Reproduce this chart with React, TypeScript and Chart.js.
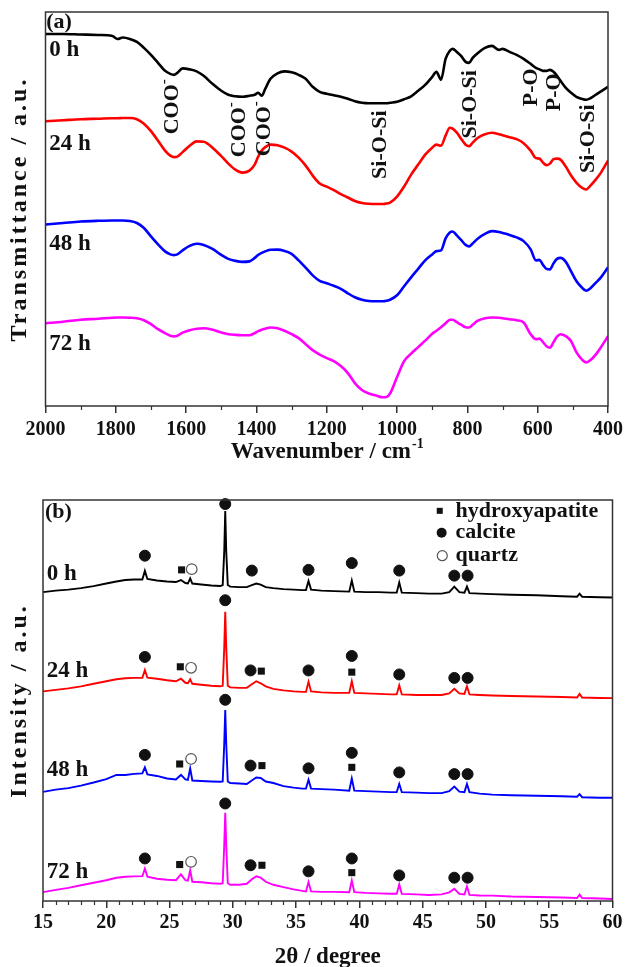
import React, { useEffect, useRef } from 'react';
import { Chart, registerables } from 'chart.js';

Chart.register(...registerables);

const FONT = '"Liberation Serif", "Times New Roman", serif';

// ---------------- Panel (a): FTIR ----------------
const wavenumbers = [2000, 1950, 1900, 1850, 1810, 1795, 1780, 1760, 1740, 1720, 1700, 1680, 1660, 1645, 1635, 1625, 1610, 1590, 1570, 1550, 1525, 1500, 1480, 1460, 1440, 1420, 1405, 1395, 1385, 1375, 1360, 1340, 1320, 1300, 1280, 1260, 1240, 1220, 1200, 1180, 1160, 1140, 1120, 1100, 1080, 1060, 1040, 1030, 1020, 1000, 980, 960, 940, 920, 900, 888, 875, 862, 850, 842, 830, 818, 805, 795, 785, 770, 750, 730, 710, 700, 680, 660, 640, 620, 605, 595, 585, 575, 565, 555, 545, 535, 520, 505, 490, 475, 462, 450, 435, 420, 400];

const ftir0h = [373, 373, 372.5, 372, 371, 368, 369.5, 368, 365, 359, 352, 344, 336, 333, 332, 334, 338.5, 337.5, 335.5, 331, 323, 316, 312, 310.5, 310, 311, 312, 314, 311, 318, 328, 333.5, 335.5, 334.5, 332, 328, 320, 315, 313, 311.5, 310, 308, 305.5, 304, 303.5, 303.5, 303.5, 303.5, 304, 305, 307.5, 310.5, 316, 322, 330, 335, 327, 348, 356, 358, 355, 351, 345, 344, 349, 354, 359, 361, 357, 358, 355, 352, 348, 343, 339, 337.5, 336, 336, 337, 335, 331, 326, 319, 314, 310, 308, 307, 308.5, 312, 315.5, 320];

const ftir24h = [285.5, 286.5, 287.5, 288, 288.5, 288.5, 288.7, 288.7, 287.5, 283, 275.5, 266, 256, 251, 249.5, 250, 254.5, 261, 265.3, 265, 259, 250.5, 243, 237, 234, 236, 242, 250, 256, 259.5, 262, 261.5, 259, 255, 249, 241, 231, 223, 220, 216.5, 212.5, 209, 205.5, 203.5, 202.7, 202.5, 202.5, 203, 204, 210, 220, 232, 242, 252, 259, 262, 261, 271, 279, 278, 274, 268, 262, 260.5, 264, 269, 272.5, 274, 272.5, 271.5, 269.5, 267.5, 263.5, 256, 248.5, 248, 244, 241.5, 243, 247.5, 248, 247, 240, 231, 224, 219, 217, 221, 227, 234, 246];

const ftir48h = [182, 183.5, 185, 185.7, 186, 186, 186, 185.5, 183.5, 178.5, 170, 162, 155, 152, 151.3, 152, 156, 160.5, 162.7, 161.5, 157.5, 151.5, 147.5, 145.5, 144.5, 145, 148.5, 151.5, 153.5, 155, 156.7, 156.8, 155.5, 152.5, 146, 138.7, 131, 125.5, 123, 120.5, 117.5, 113, 109, 106.5, 105.3, 105, 105, 105.5, 106.5, 111, 120, 129, 137.5, 146, 152, 155.3, 156, 168, 174, 175, 171, 166.5, 161.5, 160, 163, 168, 172.5, 175.3, 174.5, 173.5, 171.5, 169, 165.3, 157, 146, 146.5, 141.5, 137.5, 137, 143, 147.5, 148.5, 144.5, 135, 125.3, 119, 115.5, 118, 123.5, 129, 139];

const ftir72h = [83, 84.5, 86.5, 87.5, 88.5, 88.7, 88.7, 88.5, 88, 86, 82, 77, 73, 70.5, 69.8, 70.5, 73.5, 76, 77.5, 78, 76.5, 73.7, 72, 71.3, 71, 71, 73, 75, 76.5, 77.5, 78.7, 78, 75.5, 72, 68, 62, 56, 51.5, 48, 45, 40, 33, 23, 16, 12.5, 10.5, 8.7, 9, 12.5, 29, 45, 52.5, 59, 65.5, 72.5, 75.5, 79, 83, 86.5, 86.5, 84, 81.5, 79, 78.7, 81.5, 85.5, 88, 88.7, 88.5, 88, 87, 86, 83.7, 72, 67, 67.5, 64, 60, 58.5, 64, 69.5, 72, 70, 65, 54, 47, 43.7, 46, 51.5, 59, 70];

const ftirMajorTicks = [2000, 1800, 1600, 1400, 1200, 1000, 800, 600, 400];
const ftirMinorTicks = [1900, 1700, 1500, 1300, 1100, 900, 700, 500];

// ---------------- Panel (b): XRD ----------------
const twoTheta = [15, 16, 17, 18, 19, 20, 20.8, 21.5, 22.2, 22.85, 23.05, 23.25, 24, 24.8, 25.5, 25.9, 26.25, 26.45, 26.63, 26.8, 27.5, 28.3, 29.0, 29.2, 29.32, 29.4, 29.48, 29.6, 29.8, 30.5, 31.1, 31.5, 31.85, 32.2, 32.6, 33.2, 34, 34.8, 35.5, 35.78, 35.98, 36.18, 37, 38, 39.2, 39.4, 39.6, 40.5, 41.5, 42.5, 42.95, 43.15, 43.35, 44.5, 45.5, 46.5, 47.1, 47.5, 47.9, 48.3, 48.5, 48.7, 49.5, 50.5, 52, 54, 56, 57.2, 57.4, 57.6, 59, 60];

const xrd0h = [305, 306.5, 307.5, 309, 311, 313.5, 315.5, 317, 317.5, 317.5, 326, 318, 316.5, 315.5, 315, 317, 314, 313.5, 318.5, 313.5, 312.5, 311.5, 311, 312, 345, 385, 345, 312, 310.5, 310, 310, 312, 313.5, 312.5, 310, 309, 308, 307.5, 307, 307, 316, 307.5, 306.5, 306, 305.5, 316.5, 305.5, 305, 305, 304.5, 304.5, 314.5, 304.5, 304, 303.5, 303.5, 305, 310.5, 305, 304.5, 310.5, 304, 303.5, 303, 302.5, 302, 301, 300.5, 303.5, 300.5, 300, 299.7];

const xrd24h = [207, 208.5, 210, 212, 214.5, 217, 219, 220, 220.3, 220.5, 228, 220.5, 219.5, 218, 217, 219.5, 215.5, 215, 219, 214.5, 213.5, 212.5, 212, 212.5, 250, 285.5, 250, 212.5, 211, 210.5, 210.5, 214, 217, 215, 212, 209.5, 208, 207, 206.5, 206.5, 216.5, 207, 206, 205.5, 205.5, 217, 205.5, 205, 204.5, 204, 204, 213, 204, 203.5, 203.5, 203.5, 205, 209.5, 205, 204.5, 212, 204, 203.5, 203, 202.5, 202, 201.5, 201, 204.5, 201, 200.5, 200.3];

const xrd48h = [107.7, 110, 111.5, 114, 117, 120.3, 124.5, 124.5, 125.5, 126, 132, 125, 123.5, 121, 120, 124.5, 120, 119.5, 131, 119, 118.5, 118, 117.7, 118, 155, 188.7, 155, 118, 116.5, 116, 115.5, 119, 122, 121.5, 118, 116.5, 113.5, 112, 111, 111, 119.7, 111, 110.5, 110, 109, 121, 109, 108.5, 108, 107.5, 107.5, 115.5, 107.5, 107, 106.5, 106.5, 108.5, 113, 108, 107.5, 115.5, 107.5, 106, 105, 104.5, 104, 103.5, 103, 105.5, 102.5, 102, 102];

const xrd72h = [8.7, 11, 13, 15.5, 18, 20.5, 23, 24, 24.3, 24.5, 32, 24, 22, 21, 20.5, 26.3, 20.5, 20, 30.3, 19, 18.5, 17.5, 17, 17.5, 55, 87, 55, 17.5, 16, 16, 17, 21.5, 24.3, 23, 19, 16, 13.7, 11.5, 10, 9.5, 18.7, 9.5, 9, 9, 8.7, 20.3, 8.7, 8, 7.5, 7.2, 7.2, 16.3, 7, 6.5, 6, 6.5, 8.5, 12, 7, 6.5, 14.3, 6, 5.5, 5.3, 4.5, 4, 3.5, 3, 6.3, 3, 2.5, 2];

const xrdMajorTicks = [15, 20, 25, 30, 35, 40, 45, 50, 55, 60];
const xrdMinorTicks = [16, 17, 18, 19, 21, 22, 23, 24, 26, 27, 28, 29, 31, 32, 33, 34, 36, 37, 38, 39, 41, 42, 43, 44, 46, 47, 48, 49, 51, 52, 53, 54, 56, 57, 58, 59];

// phase markers [2θ, height]
const calciteMarks = [
  [23.05, 341], [29.4, 392], [31.5, 326.3], [35.98, 327], [39.4, 333.7], [43.15, 326.3], [47.5, 321.3], [48.55, 321.3],
  [23.05, 241], [29.4, 297], [31.4, 227.7], [35.98, 227.7], [39.4, 242], [43.15, 223.7], [47.5, 220.3], [48.55, 220.3],
  [23.05, 144.3], [29.4, 198.7], [31.4, 133.7], [35.98, 131], [39.4, 146.3], [43.15, 127], [47.5, 125.3], [48.55, 125.3],
  [23.05, 42], [29.4, 96.3], [31.4, 35.3], [35.98, 29.3], [39.4, 42], [43.15, 25.3], [47.5, 23], [48.55, 23],
];
const hydroxyapatiteMarks = [
  [25.95, 327],
  [25.85, 231.3], [32.25, 227], [39.4, 226],
  [25.8, 135.3], [32.3, 133.7], [39.4, 132],
  [25.8, 36], [32.3, 35.3], [39.4, 28],
];
const quartzMarks = [
  [26.75, 327.7],
  [26.7, 230.3],
  [26.7, 140.3],
  [26.7, 38.7],
];

const seriesNames = ['0 h', '24 h', '48 h', '72 h'];
const seriesColors = ['#000000', '#ff0000', '#0000ff', '#ff00ff'];

// text annotations (data coordinates)
const ftirLabelPos = [357, 263, 162, 62];
const xrdLabelPos = [323, 227, 129, 29];
const ftirBands = [
  { t: 'COO', sup: '-', x: 1640, y: 300 },
  { t: 'COO', sup: '-', x: 1448, y: 277 },
  { t: 'COO', sup: '-', x: 1377, y: 278 },
  { t: 'Si-O-Si', x: 1049, y: 262 },
  { t: 'Si-O-Si', x: 792, y: 302.5 },
  { t: 'P-O', x: 617, y: 319.5 },
  { t: 'P-O', x: 552, y: 314.5 },
  { t: 'Si-O-Si', x: 456, y: 268 },
];

type Decor = {
  panel: string;
  panelX: number;
  panelY: number;
  labelX: number;
  labelYs: number[];
  minor: number[];
  xTitle: string;
  xTitleSup?: string;
  xTitleOffset: number;
  yTitle: string;
  bands?: { t: string; sup?: string; x: number; y: number }[];
  legend?: boolean;
};

function makeDecor(d: Decor) {
  return {
    id: 'decor',
    afterDraw(chart: any) {
      const { ctx, chartArea: a, scales } = chart;
      const xs = scales.x;
      const ys = scales.y;
      ctx.save();
      // frame
      ctx.strokeStyle = '#333';
      ctx.lineWidth = 1.5;
      ctx.strokeRect(a.left, a.top, a.right - a.left, a.bottom - a.top);
      // minor ticks
      ctx.beginPath();
      d.minor.forEach((v) => {
        const px = Math.round(xs.getPixelForValue(v)) + 0.5;
        ctx.moveTo(px, a.bottom);
        ctx.lineTo(px, a.bottom + 4);
      });
      ctx.lineWidth = 1.2;
      ctx.stroke();

      ctx.fillStyle = '#111';
      ctx.textBaseline = 'middle';
      // panel label
      ctx.font = `bold 22px ${FONT}`;
      ctx.textAlign = 'left';
      ctx.fillText(d.panel, xs.getPixelForValue(d.panelX), ys.getPixelForValue(d.panelY));
      // series labels
      ctx.font = `bold 23px ${FONT}`;
      d.labelYs.forEach((y, i) => {
        ctx.fillText(seriesNames[i], xs.getPixelForValue(d.labelX), ys.getPixelForValue(y));
      });
      // band labels (rotated)
      (d.bands || []).forEach((b) => {
        ctx.save();
        ctx.translate(xs.getPixelForValue(b.x), ys.getPixelForValue(b.y));
        ctx.rotate(-Math.PI / 2);
        const main = `bold 22px ${FONT}`;
        const small = `bold 15px ${FONT}`;
        ctx.font = main;
        const w1 = ctx.measureText(b.t).width;
        let w2 = 0;
        if (b.sup) {
          ctx.font = small;
          w2 = ctx.measureText(b.sup).width;
        }
        const start = -(w1 + w2) / 2;
        ctx.textAlign = 'left';
        ctx.font = main;
        ctx.fillText(b.t, start, 0);
        if (b.sup) {
          ctx.font = small;
          ctx.fillText(b.sup, start + w1, -8);
        }
        ctx.restore();
      });
      // legend
      if (d.legend) {
        const items = [
          { t: 'hydroxyapatite', x: 46.35, y: 385.3, kind: 'sq' },
          { t: 'calcite', x: 46.5, y: 363.7, kind: 'dot' },
          { t: 'quartz', x: 46.55, y: 341, kind: 'ring' },
        ];
        ctx.font = `bold 22px ${FONT}`;
        ctx.textAlign = 'left';
        items.forEach((it) => {
          const px = xs.getPixelForValue(it.x);
          const py = ys.getPixelForValue(it.y);
          ctx.beginPath();
          if (it.kind === 'sq') {
            ctx.fillStyle = '#111';
            ctx.fillRect(px - 3, py - 3, 6, 6);
          } else if (it.kind === 'dot') {
            ctx.fillStyle = '#111';
            ctx.arc(px, py, 5, 0, Math.PI * 2);
            ctx.fill();
          } else {
            ctx.fillStyle = '#fff';
            ctx.strokeStyle = '#555';
            ctx.lineWidth = 1.2;
            ctx.arc(px, py, 5, 0, Math.PI * 2);
            ctx.fill();
            ctx.stroke();
          }
          ctx.fillStyle = '#111';
          ctx.fillText(it.t, xs.getPixelForValue(47.6), py);
        });
      }
      // x title
      const cx = (a.left + a.right) / 2;
      const ty = a.bottom + d.xTitleOffset;
      ctx.font = `bold 23px ${FONT}`;
      const wMain = ctx.measureText(d.xTitle).width;
      let wSup = 0;
      if (d.xTitleSup) {
        ctx.font = `bold 14px ${FONT}`;
        wSup = ctx.measureText(d.xTitleSup).width;
      }
      const sx = cx - (wMain + wSup) / 2;
      ctx.textAlign = 'left';
      ctx.font = `bold 23px ${FONT}`;
      ctx.fillText(d.xTitle, sx, ty);
      if (d.xTitleSup) {
        ctx.font = `bold 14px ${FONT}`;
        ctx.fillText(d.xTitleSup, sx + wMain + 1, ty - 8);
      }
      // y title
      ctx.save();
      ctx.translate(20, (a.top + a.bottom) / 2);
      ctx.rotate(-Math.PI / 2);
      ctx.font = `bold 24px ${FONT}`;
      (ctx as any).letterSpacing = '3px';
      ctx.textAlign = 'center';
      ctx.fillText(d.yTitle, 0, 0);
      ctx.restore();
      ctx.restore();
    },
  };
}

function xAxis(min: number, max: number, reverse: boolean, ticks: number[], height: number, pad: number) {
  return {
    type: 'linear',
    min,
    max,
    reverse,
    afterBuildTicks: (s: any) => {
      s.ticks = ticks.map((v) => ({ value: v }));
    },
    afterFit: (s: any) => {
      s.height = height;
    },
    ticks: {
      autoSkip: false,
      maxRotation: 0,
      minRotation: 0,
      padding: pad,
      color: '#111',
      font: { family: FONT, size: 20, weight: 'bold' },
      callback: (v: any) => String(v),
    },
    grid: {
      drawOnChartArea: false,
      drawTicks: true,
      tickLength: 7,
      color: '#333',
      lineWidth: 1.5,
    },
    border: { display: false },
  };
}

export default function App() {
  const refA = useRef<HTMLCanvasElement>(null);
  const refB = useRef<HTMLCanvasElement>(null);

  useEffect(() => {
    const ftirSeries = [ftir0h, ftir24h, ftir48h, ftir72h];
    const xrdSeries = [xrd0h, xrd24h, xrd48h, xrd72h];

    const chartA = new Chart(refA.current as HTMLCanvasElement, {
      type: 'line',
      data: {
        datasets: ftirSeries.map((vals, i) => ({
          label: seriesNames[i],
          data: wavenumbers.map((w, j) => ({ x: w, y: vals[j] })),
          borderColor: seriesColors[i],
          borderWidth: 2.6,
          pointRadius: 0,
          fill: false,
          cubicInterpolationMode: 'monotone',
        })),
      } as any,
      options: {
        responsive: false,
        animation: false,
        devicePixelRatio: 1,
        layout: { padding: { left: 45.5, top: 12, right: 17, bottom: 0 } },
        plugins: { legend: { display: false }, tooltip: { enabled: false } },
        scales: {
          x: xAxis(400, 2000, true, ftirMajorTicks, 84, 5),
          y: { type: 'linear', min: 0, max: 395, display: false },
        },
      } as any,
      plugins: [
        makeDecor({
          panel: '(a)',
          panelX: 1998,
          panelY: 385,
          labelX: 1989,
          labelYs: ftirLabelPos,
          minor: ftirMinorTicks,
          xTitle: 'Wavenumber / cm',
          xTitleSup: '-1',
          xTitleOffset: 46,
          yTitle: 'Transmittance / a.u.',
          bands: ftirBands,
        }),
      ],
    });

    const markerSets = [
      { label: 'calcite', pts: calciteMarks, style: 'circle', r: 5.5, bg: '#111', bd: '#111', bw: 1 },
      { label: 'hydroxyapatite', pts: hydroxyapatiteMarks, style: 'rect', r: 5, bg: '#111', bd: '#111', bw: 0 },
      { label: 'quartz', pts: quartzMarks, style: 'circle', r: 5.3, bg: '#ffffff', bd: '#555', bw: 1.2 },
    ];

    const chartB = new Chart(refB.current as HTMLCanvasElement, {
      type: 'line',
      data: {
        datasets: [
          ...markerSets.map((m) => ({
            label: m.label,
            data: m.pts.map((p) => ({ x: p[0], y: p[1] })),
            showLine: false,
            pointStyle: m.style,
            pointRadius: m.r,
            pointBackgroundColor: m.bg,
            pointBorderColor: m.bd,
            pointBorderWidth: m.bw,
            clip: false,
          })),
          ...xrdSeries.map((vals, i) => ({
            label: seriesNames[i],
            data: twoTheta.map((t, j) => ({ x: t, y: vals[j] })),
            borderColor: seriesColors[i],
            borderWidth: 1.9,
            pointRadius: 0,
            fill: false,
            tension: 0,
          })),
        ],
      } as any,
      options: {
        responsive: false,
        animation: false,
        devicePixelRatio: 1,
        layout: { padding: { left: 43, top: 10, right: 15.5, bottom: 0 } },
        plugins: { legend: { display: false }, tooltip: { enabled: false } },
        scales: {
          x: xAxis(15, 60, false, xrdMajorTicks, 66, 3),
          y: { type: 'linear', min: 0, max: 396, display: false },
        },
      } as any,
      plugins: [
        makeDecor({
          panel: '(b)',
          panelX: 15.15,
          panelY: 384,
          labelX: 15.3,
          labelYs: xrdLabelPos,
          minor: xrdMinorTicks,
          xTitle: '2θ / degree',
          xTitleOffset: 56,
          yTitle: 'Intensity / a.u.',
          legend: true,
        }),
      ],
    });

    return () => {
      chartA.destroy();
      chartB.destroy();
    };
  }, []);

  return (
    <div style={{ position: 'absolute', left: 0, top: 0, width: 628, height: 967, background: '#ffffff' }}>
      <canvas ref={refA} width={628} height={490} style={{ position: 'absolute', left: 0, top: 0 }} />
      <canvas ref={refB} width={628} height={477} style={{ position: 'absolute', left: 0, top: 490 }} />
    </div>
  );
}
